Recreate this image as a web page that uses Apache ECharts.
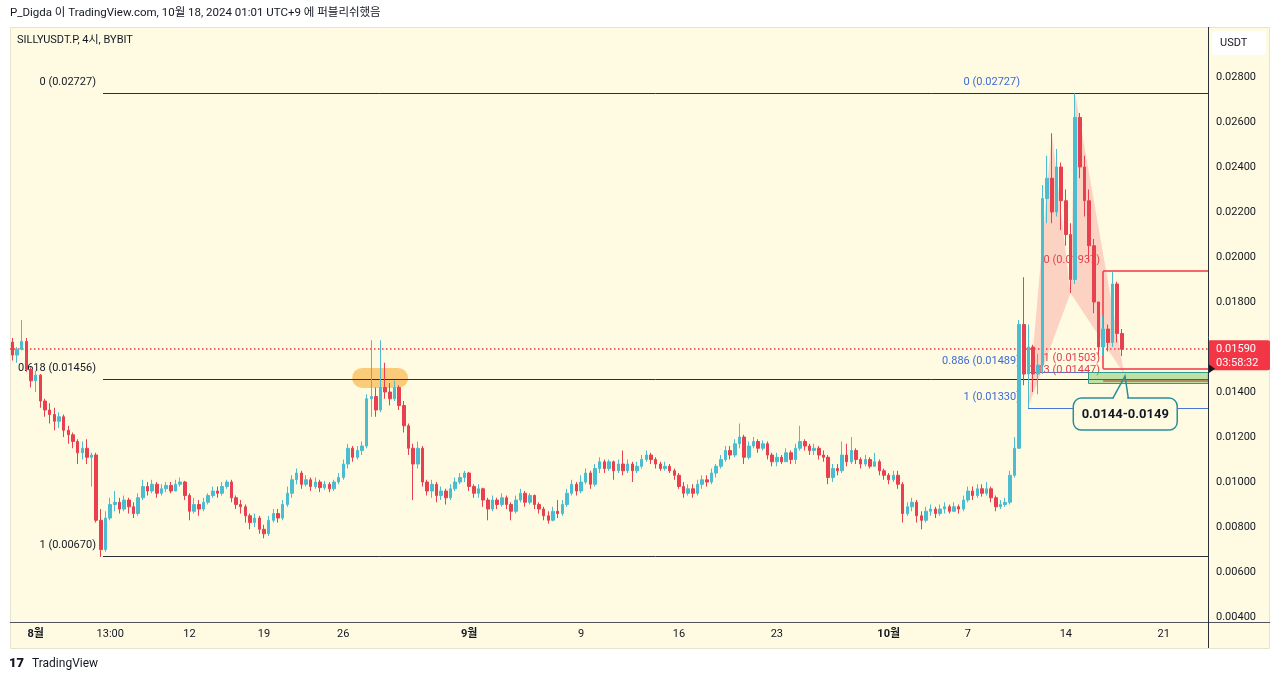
<!DOCTYPE html>
<html><head><meta charset="utf-8">
<script src="https://cdn.jsdelivr.net/npm/echarts@6/dist/echarts.min.js"></script>
<style>html,body{margin:0;padding:0;background:#fff;}#c{width:1280px;height:681px;}</style>
</head><body><div id="c"></div>
<script>
// prices in units of 0.00001 USDT, 8h candles; open = previous close
const firstOpen = 1622;
const closes = [1564,1590,1625,1500,1450,1475,1360,1320,1300,1270,1290,1230,1210,1180,1130,1150,1110,1120,830,700,
840,900,910,880,920,890,860,930,980,960,990,950,970,985,960,990,1000,940,870,900,
880,910,940,960,950,980,1000,930,900,890,850,820,840,790,770,830,860,840,900,950,
1010,1040,990,1010,980,1000,975,990,970,1000,1020,1080,1150,1110,1140,1160,1370,1380,1320,1420,
1400,1370,1420,1340,1250,1150,1080,1150,1000,960,990,940,960,930,970,1000,1020,1040,980,950,
970,920,880,920,900,930,900,870,920,950,910,940,900,880,850,830,870,860,900,950,
990,960,1000,1040,990,1060,1090,1060,1090,1050,1080,1050,1080,1050,1070,1100,1120,1100,1080,1060,
1070,1050,1030,980,950,970,950,990,1010,1000,1040,1070,1100,1140,1120,1170,1200,1110,1160,1180,
1150,1170,1120,1090,1110,1090,1130,1100,1150,1180,1160,1140,1150,1120,1110,1020,1060,1050,1120,1090,
1140,1100,1080,1100,1070,1090,1050,1030,1010,1030,990,860,890,910,850,830,870,880,860,880,
890,870,890,880,920,960,940,970,950,970,930,890,900,910,1030,1150,1700,1480,1600,1480,
1520,2260,2350,2200,2400,2250,2100,1900,2620,2400,2250,2050,1800,1600,1680,1620,1880,1660,1590];
const highs = [1640,1600,1720,1640,1510,1495,1480,1370,1350,1330,1310,1300,1250,1220,1190,1180,1190,1130,1130,880,
870,930,960,930,940,930,910,950,1010,1000,1010,1000,990,1000,1000,1010,1020,1005,950,930,
920,930,950,980,980,1000,1010,1010,940,920,900,860,860,850,810,850,880,880,920,980,
1030,1060,1050,1030,1020,1020,1010,1005,1000,1010,1040,1100,1170,1160,1160,1180,1390,1630,1420,1630,
1530,1440,1450,1430,1360,1260,1170,1180,1160,1010,1010,1000,980,970,990,1020,1040,1050,1045,990,
990,975,930,940,930,950,940,910,940,970,960,950,945,910,890,870,890,920,920,970,
1010,1000,1030,1060,1050,1080,1110,1100,1100,1095,1100,1140,1100,1090,1090,1120,1140,1130,1110,1090,
1090,1080,1060,1040,1000,990,990,1010,1030,1030,1060,1080,1120,1160,1160,1190,1260,1210,1180,1200,
1190,1185,1180,1130,1130,1120,1150,1140,1170,1250,1190,1170,1170,1160,1140,1120,1080,1080,1180,1170,
1200,1150,1110,1120,1110,1130,1100,1060,1040,1050,1050,1000,910,930,920,870,890,900,890,900,
910,900,910,900,940,980,980,990,990,1000,980,940,920,930,1050,1200,1720,1910,1700,1610,
1570,2320,2450,2550,2480,2420,2300,2150,2727,2640,2450,2300,2080,1800,1740,1700,1935,1890,1680];
const lows = [1540,1530,1585,1490,1420,1400,1330,1290,1260,1230,1240,1200,1170,1150,1080,1100,1080,980,820,667,
690,830,870,860,870,860,840,850,920,940,950,930,940,955,950,960,980,920,830,860,
850,870,900,930,930,940,970,910,880,860,820,790,800,770,750,760,820,820,830,890,
930,990,970,980,960,970,955,965,955,960,990,1010,1060,1090,1100,1120,1150,1290,1290,1310,
1370,1340,1360,1320,1220,1120,920,1060,980,940,930,910,920,900,920,960,990,1000,960,930,
930,890,830,870,880,890,880,830,860,910,890,900,880,860,830,815,825,840,850,890,
940,940,950,990,970,980,1040,1040,1050,1010,1040,1030,1040,1000,1040,1060,1090,1080,1060,1050,
1050,1040,1010,970,930,940,930,940,970,980,990,1020,1060,1090,1100,1110,1150,1080,1100,1150,
1130,1140,1100,1070,1070,1080,1090,1080,1080,1140,1140,1120,1120,1100,1090,990,1000,1030,1040,1070,
1080,1080,1060,1070,1060,1070,1030,1010,990,1000,970,820,850,870,820,790,820,850,840,850,
860,860,870,860,870,910,920,930,935,940,910,870,880,890,900,1020,1150,1430,1330,1400,
1390,1480,2150,2150,2180,2120,2050,1840,1880,2350,2180,1980,1750,1560,1560,1580,1600,1620,1560];
const currentPrice = 1590;
const SLOTS = 257;

const xTickIdx = [5, 21, 38, 54, 71, 98, 122, 143, 164, 188, 205, 226, 247];
const xTickText = ['8월', '13:00', '12', '19', '26', '9월', '9', '16', '23', '10월', '7', '14', '21'];
const monthTicks = ['8월', '9월', '10월'];
const yTicks = [400, 600, 800, 1000, 1200, 1400, 1600, 1800, 2000, 2200, 2400, 2600, 2800];

// Fibonacci tools (x in candle index units, prices in 0.00001)
const blackFibLabels = ['0 (0.02727)', '0.618 (0.01456)', '1 (0.00670)'];
const blackFibPrices = [2727, 1456, 670];
const blackFibFrom = 19.45;
const blueFibLabels = ['0 (0.02727)', '0.886 (0.01489)', '1 (0.01330)'];
const blueFibPrices = [2727, 1489, 1330];
const blueFibFrom = 217.9;
const redFibLabels = ['0 (0.01937)', '1 (0.01503)', '1.13 (0.01447)'];
const redFibPrices = [1937, 1503, 1447];
const redFibFrom = 234.0;
const lineEnd = 256.5;
// XABCD harmonic points
const harmonicX = [217.9, 223, 227, 228, 238.5];
const harmonicP = [1330, 2550, 1840, 2727, 1480];
// zones
const zoneP = [1440, 1490];
const zoneFrom = 230.8;
const highlightX = [72.9, 84.9];
const highlightP = [1418, 1507];
const calloutText = '0.0144-0.0149';
const calloutX = [227.6, 249.9];
const calloutP = [1231, 1373];
const calloutTip = [238.7, 1471];
const calloutBaseX = [236.1, 239.4];

const FONT = "Roboto, 'Noto Sans CJK KR', 'Noto Sans', sans-serif";
const BG = '#fffbe3';
const UP = '#4cbcd0';
const DOWN = '#e8404f';
const RED = '#f23645';

const candles = closes.map((c, i) => [i === 0 ? firstOpen : closes[i - 1], c, lows[i], highs[i]]);
const categories = Array.from({length: SLOTS}, (_, i) => String(i));
const labelAt = {};
xTickIdx.forEach((k, j) => { labelAt[k] = xTickText[j]; });

function crisp(v) { return Math.round(v) + 0.5; }

function fibGroup(api, labels, prices, from, color, labelColor, gap, width, children) {
  prices.forEach((p, k) => {
    const a = api.coord([from, p]);
    const b = api.coord([lineEnd, p]);
    const y = width > 1 ? Math.round(a[1]) : crisp(a[1]);
    children.push({type: 'line', shape: {x1: a[0], y1: y, x2: b[0], y2: y}, style: {stroke: color, lineWidth: width, fill: null}});
    children.push({type: 'text', style: {text: labels[k], x: a[0] - gap, y: a[1] - 11, fill: labelColor,
      font: '11px ' + FONT, align: 'right', verticalAlign: 'middle'}});
  });
}

const underSeries = {
  type: 'custom', xAxisIndex: 1, yAxisIndex: 0, z: 1, silent: true, clip: false,
  data: [[0, 1000]],
  renderItem: (params, api) => {
    const ch = [];
    const P = (x, p) => api.coord([x, p]);
    const H = harmonicX.map((x, k) => P(x, harmonicP[k]));
    ch.push({type: 'polygon', shape: {points: [H[0], H[1], H[2]]}, style: {fill: 'rgba(242,54,69,0.2)'}});
    ch.push({type: 'polygon', shape: {points: [H[2], H[3], H[4]]}, style: {fill: 'rgba(242,54,69,0.2)'}});
    const h1 = P(highlightX[0], highlightP[1]), h2 = P(highlightX[1], highlightP[0]);
    ch.push({type: 'rect', shape: {x: h1[0], y: h1[1], width: h2[0] - h1[0], height: h2[1] - h1[1], r: 10},
      style: {fill: 'rgba(245,166,35,0.55)'}});
    const d1 = P(-0.5, currentPrice), d2 = P(lineEnd, currentPrice);
    ch.push({type: 'line', shape: {x1: d1[0], y1: Math.round(d1[1]), x2: d2[0], y2: Math.round(d1[1])},
      style: {stroke: RED, lineWidth: 1.5, lineDash: [1.5, 2.5], fill: null}});
    fibGroup(api, blueFibLabels, blueFibPrices, blueFibFrom, '#4a78d6', '#3d6bd4', 8, 1, ch);
    fibGroup(api, blackFibLabels, blackFibPrices, blackFibFrom, '#2a2e39', '#131722', 7, 1, ch);
    fibGroup(api, redFibLabels, redFibPrices, redFibFrom, RED, '#e0434f', 3, 1.5, ch);
    const bv1 = P(blueFibFrom, blueFibPrices[1]), bv2 = P(blueFibFrom, blueFibPrices[2]);
    ch.push({type: 'line', shape: {x1: crisp(bv1[0]), y1: bv1[1], x2: crisp(bv1[0]), y2: bv2[1]}, style: {stroke: '#4a78d6', lineWidth: 1, fill: null}});
    const rv1 = P(redFibFrom, redFibPrices[0]), rv2 = P(redFibFrom, redFibPrices[1]);
    ch.push({type: 'line', shape: {x1: Math.round(rv1[0]), y1: rv1[1], x2: Math.round(rv1[0]), y2: rv2[1]}, style: {stroke: RED, lineWidth: 1.5, fill: null}});
    return {type: 'group', children: ch};
  }
};

const overSeries = {
  type: 'custom', xAxisIndex: 1, yAxisIndex: 0, z: 5, silent: true, clip: false,
  data: [[0, 1000]],
  renderItem: (params, api) => {
    const ch = [];
    const P = (x, p) => api.coord([x, p]);
    const z1 = P(zoneFrom, zoneP[1]), z2 = P(lineEnd, zoneP[0]);
    ch.push({type: 'rect', shape: {x: crisp(z1[0]), y: crisp(z1[1]), width: z2[0] - z1[0], height: Math.round(z2[1] - z1[1])},
      style: {fill: 'rgba(100,190,80,0.42)', stroke: '#2e9a8c', lineWidth: 1}});
    const c1 = P(calloutX[0], calloutP[1]), c2 = P(calloutX[1], calloutP[0]);
    ch.push({type: 'rect', shape: {x: c1[0], y: c1[1], width: c2[0] - c1[0], height: c2[1] - c1[1], r: 8},
      style: {fill: BG, stroke: '#2a8f99', lineWidth: 1.5}});
    const bl = P(calloutBaseX[0], calloutP[1]), br = P(calloutBaseX[1], calloutP[1]), tp = P(calloutTip[0], calloutTip[1]);
    ch.push({type: 'line', shape: {x1: bl[0] + 1, y1: bl[1], x2: br[0] - 1, y2: br[1]}, style: {stroke: BG, lineWidth: 3}});
    ch.push({type: 'polyline', shape: {points: [bl, tp, br]}, style: {stroke: '#2a8f99', lineWidth: 1.5, fill: null}});
    ch.push({type: 'text', style: {text: calloutText, x: (c1[0] + c2[0]) / 2, y: (c1[1] + c2[1]) / 2 + 1,
      fill: '#131722', font: 'bold 13px ' + FONT, align: 'center', verticalAlign: 'middle'}});
    const t = P(lineEnd, currentPrice);
    ch.push({type: 'rect', shape: {x: t[0], y: t[1] - 9, width: 62, height: 30, r: 2}, style: {fill: RED}});
    ch.push({type: 'text', style: {text: (currentPrice / 1e5).toFixed(5), x: t[0] + 8, y: t[1], fill: '#ffffff',
      font: '11px ' + FONT, align: 'left', verticalAlign: 'middle'}});
    ch.push({type: 'text', style: {text: '03:58:32', x: t[0] + 8, y: t[1] + 14, fill: '#ffffff',
      font: '11px ' + FONT, align: 'left', verticalAlign: 'middle'}});
    const m = P(lineEnd, redFibPrices[1]);
    ch.push({type: 'polygon', shape: {points: [[m[0], m[1] - 5], [m[0] + 7, m[1]], [m[0], m[1] + 5]]}, style: {fill: '#131722'}});
    return {type: 'group', children: ch};
  }
};

const candleSeries = {
  type: 'candlestick', xAxisIndex: 0, yAxisIndex: 0, z: 3, data: candles, barWidth: 3,
  itemStyle: {color: UP, color0: DOWN, borderColor: UP, borderColor0: DOWN, borderWidth: 1}
};

const chart = echarts.init(document.getElementById('c'), null, {renderer: 'canvas'});
chart.setOption({
  animation: false,
  backgroundColor: '#ffffff',
  grid: {left: 10, right: 72, top: 27, bottom: 59},
  xAxis: [
    {type: 'category', data: categories, boundaryGap: true,
     axisLine: {show: false}, axisTick: {show: false}, splitLine: {show: false},
     axisLabel: {
       interval: (i) => labelAt[i] !== undefined,
       formatter: (v, i) => { const t = labelAt[i]; if (t === undefined) return ''; return monthTicks.includes(t) ? '{m|' + t + '}' : t; },
       color: '#131722', fontSize: 11, fontFamily: FONT, margin: 7,
       rich: {m: {fontWeight: 'bold', fontSize: 11, color: '#131722', fontFamily: FONT}}
     }},
    {type: 'value', min: -0.5, max: SLOTS - 0.5, show: false}
  ],
  yAxis: {type: 'value', position: 'right', min: 378, max: 3022,
    axisLine: {show: false}, axisTick: {show: false}, splitLine: {show: false},
    axisLabel: {customValues: yTicks, formatter: (v) => (v / 1e5).toFixed(5), color: '#131722', fontSize: 11, fontFamily: FONT, margin: 8}},
  series: [underSeries, candleSeries, overSeries],
  graphic: [
    {type: 'rect', z: -10, shape: {x: 10.5, y: 27.5, width: 1259, height: 621}, style: {fill: BG, stroke: '#e6e3cf', lineWidth: 1}},
    {type: 'line', z: 10, shape: {x1: 10, y1: 622.5, x2: 1270, y2: 622.5}, style: {stroke: '#50535e', lineWidth: 1}},
    {type: 'line', z: 10, shape: {x1: 1208.5, y1: 27, x2: 1208.5, y2: 648}, style: {stroke: '#2a2e39', lineWidth: 1}},
    {type: 'rect', z: 10, shape: {x: 1212, y: 31, width: 54, height: 24, r: 4}, style: {fill: '#ffffff'}},
    {type: 'text', z: 11, style: {text: 'USDT', x: 1220, y: 43, fill: '#131722', font: '11px ' + FONT, verticalAlign: 'middle'}},
    {type: 'text', z: 11, style: {text: 'P_Digda 이 TradingView.com, 10월 18, 2024 01:01 UTC+9 에 퍼블리쉬했음', x: 10, y: 13,
      fill: '#131722', font: '11.5px ' + FONT, verticalAlign: 'middle'}},
    {type: 'text', z: 11, style: {text: 'SILLYUSDT.P, 4시, BYBIT', x: 17, y: 40, fill: '#131722', font: '11px ' + FONT, verticalAlign: 'middle'}},
    {type: 'text', z: 11, style: {text: '17', x: 9, y: 664, fill: '#131722', font: '900 13px ' + FONT, verticalAlign: 'middle'}},
    {type: 'text', z: 11, style: {text: 'TradingView', x: 32, y: 664, fill: '#131722', font: '12px ' + FONT, verticalAlign: 'middle'}}
  ]
});
</script>
</body></html>
